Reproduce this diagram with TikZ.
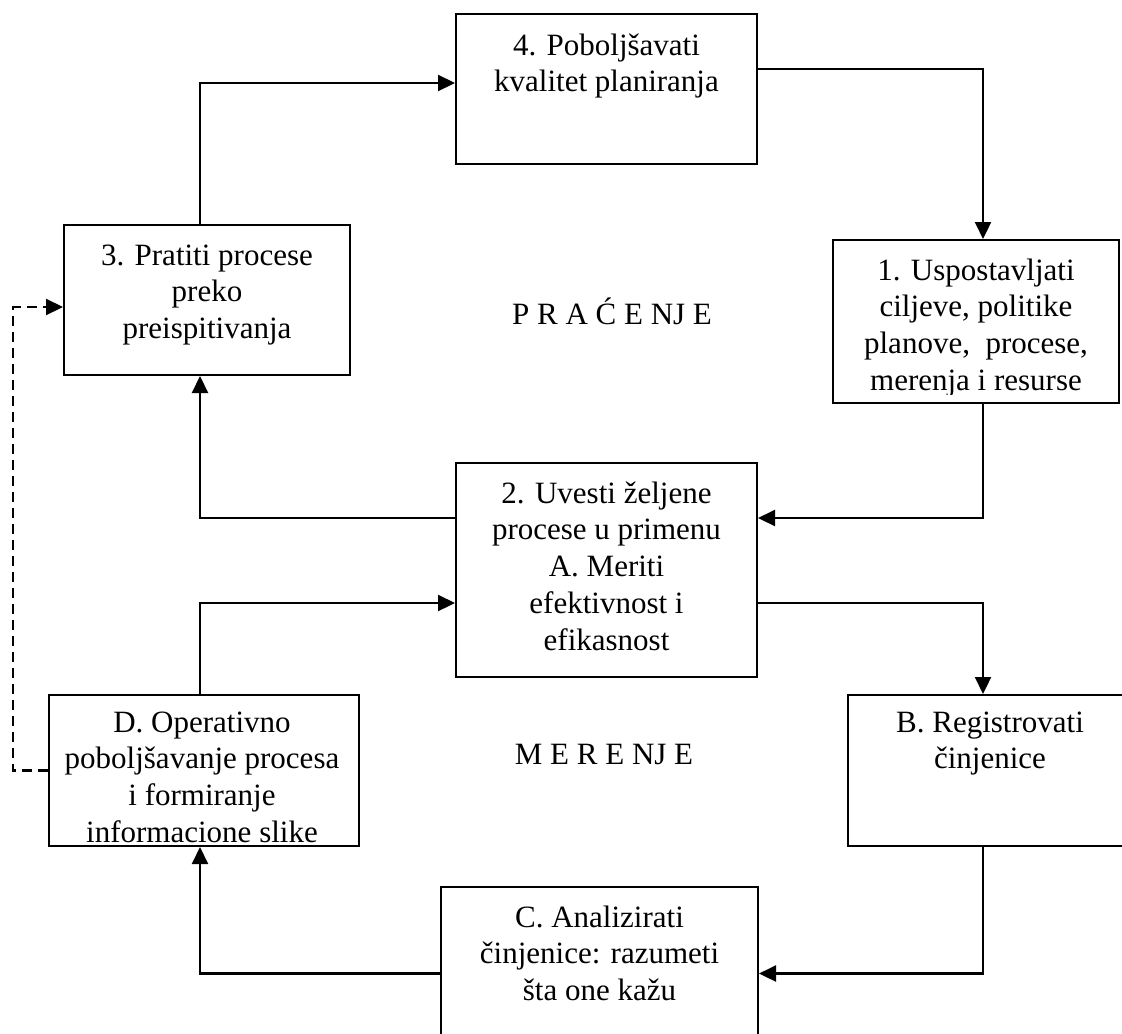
\documentclass[tikz,border=0pt]{standalone}
\usepackage{fontspec}
\setmainfont{Liberation Serif}
\usetikzlibrary{arrows.meta,calc}
\begin{document}
\begin{tikzpicture}[x=0.5pt,y=-0.5pt,
  box/.style={draw,line width=1pt,rectangle,inner sep=0pt},
  boxtext/.style={font=\fontsize{15.5}{18.4}\selectfont, align=center, inner sep=0pt, anchor=north},
  phase/.style={font=\fontsize{15.5}{18.4}\selectfont, inner sep=0pt, anchor=base},
  conn/.style={line width=1.1pt,-{Triangle[length=8.5pt,width=8pt]}},
  feedback/.style={conn, dash pattern=on 5pt off 3pt}]
\clip (0,0) rectangle (1122,1033);

% planning cycle
\node[box, minimum width=150.5pt, minimum height=75pt]   (b4) at (606.5,89)   {};
\node[boxtext] (t4) at (606.5,29) {\strut 4. Poboljšavati\\kvalitet planiranja};

\node[box, minimum width=143pt, minimum height=75pt]     (b3) at (207,300)    {};
\node[boxtext] (t3) at (207,239) {\strut 3. Pratiti procese\\preko\\preispitivanja};

\node[box, minimum width=143pt, minimum height=81.5pt]   (b1) at (976,321.5)  {};
\begin{scope}
  \clip (b1.north west) rectangle ($(b1.south east)+(0,-10)$);
  \node[boxtext] (t1) at (976,254) {\strut 1. Uspostavljati\\ciljeve, politike\\planove,\ \ procese,\\merenja i resurse};
\end{scope}

\node[box, minimum width=150.5pt, minimum height=107pt]  (b2) at (606.5,570)  {};
\node[boxtext] (t2) at (606.5,477) {\strut 2. Uvesti željene\\procese u primenu\\A. Meriti\\efektivnost i\\efikasnost};

% measuring cycle
\node[box, minimum width=155pt, minimum height=75.5pt]   (bD) at (204,770.5)  {};
\node[boxtext] (tD) at (202,706) {\strut D. Operativno\\poboljšavanje procesa\\i formiranje\\informacione slike};

\node[box, minimum width=142pt, minimum height=75.5pt]   (bB) at (990,770.5)  {};
\node[boxtext] (tB) at (990,706) {\strut B. Registrovati\\činjenice};

\node[box, minimum width=158.5pt, minimum height=86.5pt] (bC) at (599.5,973.5) {};
\node[boxtext] (tC) at (599.5,901) {\strut C. Analizirati\\činjenice: razumeti\\šta one kažu};

% phase names
\node[phase] (pr) at (612,324) {P R A Ć E NJ E};
\node[phase] (me) at (604,764) {M E R E NJ E};

% connectors
\draw[conn] ([xshift=-3.5pt]b3.north) |- ([yshift=3pt]b4.west);
\draw[conn] ([yshift=10pt]b4.east) -| ([xshift=3.5pt]b1.north);
\draw[conn] ([xshift=3.5pt]b1.south) |- ([yshift=26pt]b2.east);
\draw[conn] ([yshift=26pt]b2.west) -| ([xshift=-3.5pt]b3.south);
\draw[conn] ([yshift=-16.5pt]b2.east) -| ([xshift=-3.5pt]bB.north);
\draw[conn] ([xshift=-3.5pt]bB.south) |- (bC.east);
\draw[conn] (bC.west) -| ([xshift=-2pt]bD.south);
\draw[conn] ([xshift=-2pt]bD.north) |- ([yshift=-16.5pt]b2.west);

% feedback loop
\coordinate (loop) at (13,540);
\draw[feedback] (bD.west) -| (loop) |- ([yshift=-3.5pt]b3.west);
\end{tikzpicture}
\end{document}
